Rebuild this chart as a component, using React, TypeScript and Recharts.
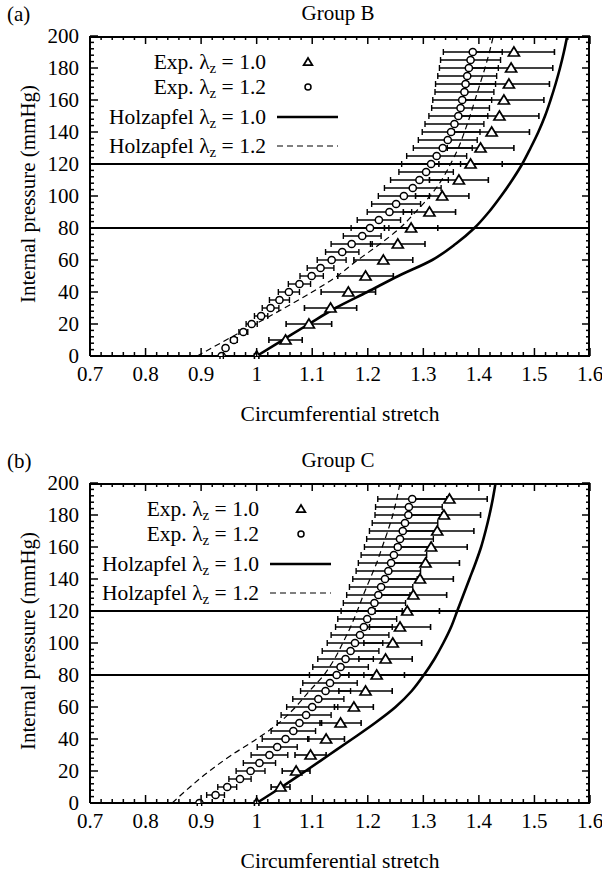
import React from 'react';
import { ComposedChart, Scatter, Line, XAxis, YAxis, ErrorBar, Legend } from 'recharts';

const FONT = '"Liberation Serif", "Times New Roman", serif';

// pressure levels (mmHg)
const expPressure10 = [0, 10, 20, 30, 40, 50, 60, 70, 80, 90, 100, 110, 120, 130, 140, 150, 160, 170, 180, 190];
const expPressure5 = [
  0, 5, 10, 15, 20, 25, 30, 35, 40, 45, 50, 55, 60, 65, 70, 75, 80, 85, 90, 95,
  100, 105, 110, 115, 120, 125, 130, 135, 140, 145, 150, 155, 160, 165, 170, 175, 180, 185, 190,
];
const modelPressure = [0, 10, 20, 30, 40, 50, 60, 70, 80, 90, 100, 110, 120, 130, 140, 150, 160, 170, 180, 190, 200];
const markerPressures = [80, 120];

// Group B
const groupBExp10 = [1.0, 1.052, 1.094, 1.133, 1.165, 1.196, 1.228, 1.254, 1.278, 1.311, 1.334, 1.364, 1.385, 1.403, 1.423, 1.437, 1.445, 1.454, 1.458, 1.463];
const groupBExp10Err = [0.004, 0.03, 0.041, 0.047, 0.049, 0.05, 0.053, 0.049, 0.048, 0.047, 0.048, 0.053, 0.057, 0.06, 0.068, 0.071, 0.072, 0.073, 0.075, 0.073];
const groupBExp12 = [
  0.937, 0.944, 0.959, 0.976, 0.991, 1.008, 1.025, 1.041, 1.058, 1.077, 1.099, 1.115, 1.135, 1.154, 1.171, 1.19, 1.204, 1.22, 1.239, 1.251,
  1.265, 1.281, 1.293, 1.305, 1.314, 1.324, 1.335, 1.344, 1.35, 1.356, 1.363, 1.367, 1.37, 1.374, 1.376, 1.379, 1.382, 1.385, 1.389,
];
const groupBExp12Err = [
  0.003, 0.004, 0.006, 0.008, 0.01, 0.012, 0.015, 0.018, 0.019, 0.02, 0.021, 0.024, 0.026, 0.03, 0.037, 0.034, 0.034, 0.039, 0.04, 0.044,
  0.046, 0.051, 0.052, 0.049, 0.053, 0.054, 0.053, 0.053, 0.052, 0.053, 0.053, 0.052, 0.053, 0.053, 0.054, 0.053, 0.053, 0.054, 0.053,
];
const groupBHolz10 = [1.0, 1.047, 1.094, 1.142, 1.199, 1.255, 1.316, 1.358, 1.392, 1.418, 1.44, 1.46, 1.478, 1.493, 1.507, 1.519, 1.529, 1.538, 1.546, 1.553, 1.559];
const groupBHolz12 = [0.893, 0.945, 0.998, 1.05, 1.1, 1.145, 1.182, 1.222, 1.258, 1.286, 1.312, 1.333, 1.349, 1.363, 1.374, 1.384, 1.393, 1.402, 1.411, 1.419, 1.426];

// Group C
const groupCExp10 = [1.0, 1.043, 1.071, 1.097, 1.125, 1.151, 1.175, 1.196, 1.216, 1.232, 1.245, 1.258, 1.271, 1.282, 1.294, 1.304, 1.314, 1.325, 1.337, 1.347];
const groupCExp10Err = [0.004, 0.017, 0.025, 0.028, 0.033, 0.037, 0.035, 0.048, 0.05, 0.048, 0.052, 0.055, 0.058, 0.06, 0.06, 0.061, 0.065, 0.066, 0.066, 0.068];
const groupCExp12 = [
  0.897, 0.926, 0.947, 0.97, 0.989, 1.005, 1.023, 1.037, 1.052, 1.066, 1.077, 1.089, 1.1, 1.111, 1.124, 1.132, 1.144, 1.151, 1.16, 1.169,
  1.177, 1.186, 1.193, 1.199, 1.207, 1.212, 1.219, 1.224, 1.231, 1.237, 1.242, 1.247, 1.254, 1.258, 1.263, 1.267, 1.273, 1.274, 1.28,
];
const groupCExp12Err = [
  0.004, 0.016, 0.017, 0.02, 0.026, 0.029, 0.033, 0.036, 0.042, 0.04, 0.04, 0.045, 0.046, 0.046, 0.045, 0.049, 0.049, 0.05, 0.05, 0.051,
  0.05, 0.052, 0.051, 0.053, 0.055, 0.056, 0.057, 0.057, 0.058, 0.058, 0.059, 0.059, 0.06, 0.06, 0.06, 0.059, 0.06, 0.06, 0.062,
];
const groupCHolz10 = [1.0, 1.045, 1.088, 1.13, 1.172, 1.213, 1.25, 1.279, 1.301, 1.32, 1.336, 1.35, 1.361, 1.372, 1.383, 1.394, 1.404, 1.412, 1.419, 1.425, 1.43];
const groupCHolz12 = [0.848, 0.88, 0.915, 0.955, 1.0, 1.04, 1.07, 1.095, 1.121, 1.14, 1.155, 1.169, 1.181, 1.192, 1.204, 1.216, 1.226, 1.236, 1.245, 1.252, 1.258];

// axes
const xMin = 0.7;
const xMax = 1.6;
const yMin = 0;
const yMax = 200;
const xMajor = [0.7, 0.8, 0.9, 1, 1.1, 1.2, 1.3, 1.4, 1.5, 1.6];
const yMajor = [0, 20, 40, 60, 80, 100, 120, 140, 160, 180, 200];
const xTicks = Array.from({ length: 46 }, (_, i) => Math.round((0.7 + i * 0.02) * 100) / 100);
const yTicks = Array.from({ length: 51 }, (_, i) => i * 4);

const legendNames = ['Exp.', 'Exp.', 'Holzapfel', 'Holzapfel'];
const legendLambda = ['1.0', '1.2', '1.0', '1.2'];

const PLOT_W = 500;
const PLOT_H = 320;
const FS = 21;

const toPoints = (ps: number[], xs: number[], errs?: number[]) =>
  ps.map((p, i) => ({ p, x: xs[i], err: errs ? errs[i] : 0 }));

const renderXTick = (props: any) => {
  const { x, y, payload } = props;
  const v = payload.value;
  const major = xMajor.some((m) => Math.abs(m - v) < 1e-6);
  const len = major ? 8 : 4;
  return (
    <g>
      <line x1={x} y1={y} x2={x} y2={y - len} stroke="#000" strokeWidth={1.5} />
      <line x1={x} y1={y - PLOT_H} x2={x} y2={y - PLOT_H + len} stroke="#000" strokeWidth={1.5} />
      {major && (
        <text x={x} y={y + 18} textAnchor="middle" dominantBaseline="central" fontSize={FS} fontFamily={FONT} fill="#000">
          {String(Math.round(v * 10) / 10)}
        </text>
      )}
    </g>
  );
};

const renderYTick = (props: any) => {
  const { x, y, payload } = props;
  const v = payload.value;
  const major = yMajor.includes(v);
  const len = major ? 8 : 4;
  return (
    <g>
      <line x1={x} y1={y} x2={x + len} y2={y} stroke="#000" strokeWidth={1.5} />
      <line x1={x + PLOT_W} y1={y} x2={x + PLOT_W - len} y2={y} stroke="#000" strokeWidth={1.5} />
      {major && (
        <text x={x - 11} y={y} textAnchor="end" dominantBaseline="central" fontSize={FS} fontFamily={FONT} fill="#000">
          {v}
        </text>
      )}
    </g>
  );
};

const Triangle = ({ cx, cy, s = 1 }: any) => (
  <polygon
    points={`${cx},${cy - 5 * s} ${cx - 5.5 * s},${cy + 4 * s} ${cx + 5.5 * s},${cy + 4 * s}`}
    fill="#fff"
    stroke="#000"
    strokeWidth={1.7}
  />
);

const Circle = ({ cx, cy, r = 3.6 }: any) => <circle cx={cx} cy={cy} r={r} fill="#fff" stroke="#000" strokeWidth={1.5} />;

const renderLegend = () => {
  const rows = [22, 47, 77, 106];
  return (
    <svg width={260} height={125} style={{ overflow: 'visible' }}>
      {rows.map((ry, i) => (
        <text key={i} x={166} y={ry} textAnchor="end" dominantBaseline="central" fontSize={FS + 0.5} fontFamily={FONT} fill="#000">
          {legendNames[i]} λ<tspan fontSize={15} dy={6}>z</tspan>
          <tspan dy={-6}> = {legendLambda[i]}</tspan>
        </text>
      ))}
      <Triangle cx={208} cy={rows[0]} s={0.8} />
      <Circle cx={208} cy={rows[1]} r={3} />
      <line x1={177} y1={rows[2]} x2={238} y2={rows[2]} stroke="#000" strokeWidth={2.5} />
      <line x1={177} y1={rows[3]} x2={238} y2={rows[3]} stroke="#000" strokeWidth={1.2} strokeDasharray="6 4" />
    </svg>
  );
};

const noMark = () => <g />;

type PanelProps = {
  top: number;
  tag: string;
  title: string;
  legendLeft: number;
  exp10: number[];
  exp10Err: number[];
  exp12: number[];
  exp12Err: number[];
  holz10: number[];
  holz12: number[];
};

const Panel = ({ top, tag, title, legendLeft, exp10, exp10Err, exp12, exp12Err, holz10, holz12 }: PanelProps) => {
  const tri = toPoints(expPressure10, exp10, exp10Err);
  const circ = toPoints(expPressure5, exp12, exp12Err);
  const model10 = toPoints(modelPressure, holz10);
  const model12 = toPoints(modelPressure, holz12);
  return (
    <div style={{ position: 'absolute', left: 0, top, width: 602, height: 426 }}>
      <ComposedChart width={602} height={426} margin={{ top: 36, right: 12, bottom: 0, left: 0 }}>
        <XAxis
          type="number"
          dataKey="x"
          domain={[xMin, xMax]}
          allowDataOverflow
          ticks={xTicks}
          interval={0}
          tickSize={0}
          tickMargin={0}
          tick={renderXTick}
          tickLine={false}
          height={70}
          axisLine={{ stroke: '#000', strokeWidth: 2 }}
        />
        <YAxis
          type="number"
          dataKey="p"
          domain={[yMin, yMax]}
          allowDataOverflow
          ticks={yTicks}
          interval={0}
          tickSize={0}
          tickMargin={0}
          tick={renderYTick}
          tickLine={false}
          width={90}
          axisLine={{ stroke: '#000', strokeWidth: 2 }}
        />
        {/* top and right frame */}
        <Scatter
          data={[{ x: xMin, p: yMax }, { x: xMax, p: yMax }, { x: xMax, p: yMin }]}
          dataKey="p"
          fill="none"
          line={{ stroke: '#000', strokeWidth: 4 }}
          shape={noMark}
          isAnimationActive={false}
        />
        {/* 80 and 120 mmHg */}
        {markerPressures.map((mp) => (
          <Line
            key={mp}
            data={[{ x: xMin, p: mp }, { x: xMax, p: mp }]}
            dataKey="p"
            type="linear"
            stroke="#000"
            strokeWidth={2.2}
            dot={false}
            activeDot={false}
            isAnimationActive={false}
          />
        ))}
        <Scatter
          data={model10}
          dataKey="p"
          fill="none"
          line={{ stroke: '#000', strokeWidth: 2.6 }}
          lineJointType="monotoneY"
          shape={noMark}
          isAnimationActive={false}
        />
        <Scatter
          data={model12}
          dataKey="p"
          fill="none"
          line={{ stroke: '#000', strokeWidth: 1.2, strokeDasharray: '6 4' }}
          lineJointType="monotoneY"
          shape={noMark}
          isAnimationActive={false}
        />
        <Scatter data={circ} dataKey="p" shape={(p: any) => <Circle cx={p.cx} cy={p.cy} />} isAnimationActive={false}>
          <ErrorBar dataKey="err" direction="x" width={3} stroke="#000" strokeWidth={1.4} isAnimationActive={false} />
        </Scatter>
        <Scatter data={tri} dataKey="p" shape={(p: any) => <Triangle cx={p.cx} cy={p.cy} />} isAnimationActive={false}>
          <ErrorBar dataKey="err" direction="x" width={3} stroke="#000" strokeWidth={1.6} isAnimationActive={false} />
        </Scatter>
        <Legend
          content={renderLegend}
          layout="vertical"
          align="center"
          verticalAlign="middle"
          wrapperStyle={{ left: legendLeft, top: 40, width: 260, height: 125 }}
        />
      </ComposedChart>
      <svg width={602} height={426} style={{ position: 'absolute', left: 0, top: 0, pointerEvents: 'none' }}>
        <text x={7} y={14} dominantBaseline="central" fontSize={FS} fontFamily={FONT} fill="#000">
          {tag}
        </text>
        <text x={338} y={13} textAnchor="middle" dominantBaseline="central" fontSize={FS} fontFamily={FONT} fill="#000">
          {title}
        </text>
        <text
          x={28}
          y={194}
          transform="rotate(-90 28 194)"
          textAnchor="middle"
          dominantBaseline="central"
          fontSize={FS}
          fontFamily={FONT}
          fill="#000"
        >
          Internal pressure (mmHg)
        </text>
        <text x={340} y={414} textAnchor="middle" dominantBaseline="central" fontSize={FS + 0.5} fontFamily={FONT} fill="#000">
          Circumferential stretch
        </text>
      </svg>
    </div>
  );
};

export default function App() {
  return (
    <div style={{ position: 'absolute', left: 0, top: 0, width: 602, height: 873, background: '#fff', overflow: 'hidden' }}>
      <Panel
        top={0}
        tag="(a)"
        title="Group B"
        legendLeft={100}
        exp10={groupBExp10}
        exp10Err={groupBExp10Err}
        exp12={groupBExp12}
        exp12Err={groupBExp12Err}
        holz10={groupBHolz10}
        holz12={groupBHolz12}
      />
      <Panel
        top={447}
        tag="(b)"
        title="Group C"
        legendLeft={93}
        exp10={groupCExp10}
        exp10Err={groupCExp10Err}
        exp12={groupCExp12}
        exp12Err={groupCExp12Err}
        holz10={groupCHolz10}
        holz12={groupCHolz12}
      />
    </div>
  );
}
